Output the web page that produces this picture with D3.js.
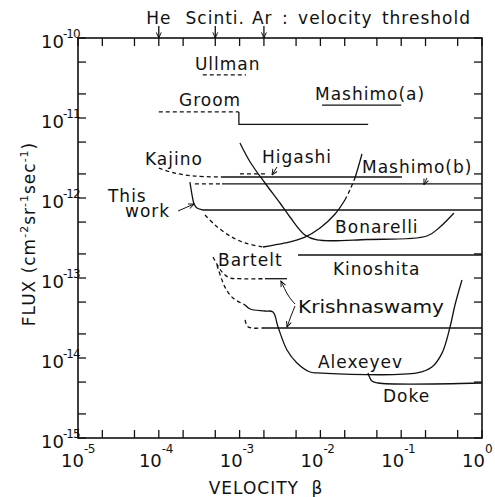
<!DOCTYPE html>
<html><head><meta charset="utf-8">
<script src="https://cdn.jsdelivr.net/npm/d3@7"></script>
<style>
html,body{margin:0;padding:0;background:#fff;}
svg{display:block;}
text{font-family:"DejaVu Sans",sans-serif;fill:#111;}
</style></head><body>
<svg id="c" width="495" height="497"></svg>
<script>
// ---------- data ----------
const xDomain = [1e-5, 1];
const yDomain = [1e-15, 1e-10];
const xTickExps = [-5, -4, -3, -2, -1, 0];
const yTickExps = [-10, -11, -12, -13, -14, -15];
const minorMults = [1, 2, 5];

const thresholdLabels = ["He", "Scinti.", "Ar"];
const thresholdBeta = [1e-4, 5e-4, 2e-3];

// series: [beta, flux]
const ullmanDashed   = [[3.5e-4,3.45e-11],[1.2e-3,3.45e-11]];
const groomDashed    = [[1e-4,1.19e-11],[9.8e-4,1.19e-11]];
const groomSolid     = [[9.8e-4,1.19e-11],[9.8e-4,8.3e-12],[0.039,8.3e-12]];
const mashimoA       = [[0.0105,1.45e-11],[0.1,1.45e-11]];
const kajinoDashed   = [[1e-4,2.37e-12],[1.58e-4,2.05e-12],[2.8e-4,1.88e-12],[6.06e-4,1.83e-12]];
const kajinoSolid    = [[6.06e-4,1.83e-12],[0.102,1.83e-12]];
const higashiDashed  = [[1.01e-3,2.0e-12],[2.24e-3,2.0e-12]];
const mashimoBDashed = [[2.8e-4,1.5e-12],[6.06e-4,1.5e-12]];
const mashimoBSolid  = [[6.06e-4,1.5e-12],[1,1.5e-12]];
const thisWorkCurve  = [[2.43e-4,1.58e-12],[2.58e-4,1.09e-12],[2.73e-4,8.4e-13],[2.97e-4,7.5e-13],[3.52e-4,7.08e-13]];
const thisWorkFlat   = [[3.52e-4,7.08e-13],[1,7.08e-13]];
const uDashed        = [[3.73e-4,6.13e-13],[4.96e-4,4.6e-13],[7.6e-4,3.35e-13],[1.17e-3,2.74e-13],[1.95e-3,2.44e-13]];
const uSolidLow      = [[1.95e-3,2.44e-13],[3.65e-3,2.74e-13],[6.44e-3,3.25e-13],[9.9e-3,4.22e-13],[0.0152,6.31e-13],[0.0201,9.44e-13]];
const uDashedMid     = [[0.0201,9.44e-13],[0.0232,1.26e-12],[0.0268,1.78e-12]];
const uSolidTop      = [[0.0268,1.78e-12],[0.0292,2.37e-12],[0.0327,3.55e-12]];
const bonarelli      = [[1.01e-3,4.87e-12],[1.35e-3,2.82e-12],[2.06e-3,1.54e-12],[3.16e-3,8.66e-13],[4.2e-3,5.79e-13],[6.44e-3,3.45e-13],[9.08e-3,2.99e-13],[0.0377,3.03e-13],[0.208,3.35e-13],[0.302,4.34e-13],[0.45,6.5e-13]];
const kinoshita      = [[5.28e-3,1.94e-13],[1,1.94e-13]];
const bartelt1Dashed = [[4.69e-4,1.83e-13],[5.41e-4,1.41e-13],[6.24e-4,1.15e-13],[7.6e-4,1.0e-13],[1.0e-3,9.8e-14],[2.06e-3,9.8e-14]];
const krishUpper     = [[2.06e-3,9.8e-14],[3.86e-3,9.8e-14]];
const bartelt2Dashed = [[5.25e-4,1.45e-13],[6.59e-4,7.7e-14],[8.28e-4,5.62e-14],[1.17e-3,4.6e-14]];
const alexeyev       = [[1.17e-3,4.6e-14],[1.35e-3,4.1e-14],[2.06e-3,3.87e-14],[2.59e-3,3.76e-14],[2.99e-3,2.44e-14],[3.86e-3,1.26e-14],[5.13e-3,8.66e-15],[7.43e-3,6.68e-15],[9.08e-3,6.5e-15],[0.157,6.5e-15],[0.24,7.7e-15],[0.32,1.15e-14],[0.402,2.44e-14],[0.463,4.6e-14],[0.565,9.44e-14]];
const krishLowDashed = [[1.17e-3,2.99e-14],[1.24e-3,2.51e-14],[1.42e-3,2.37e-14],[1.89e-3,2.37e-14]];
const krishLowSolid  = [[1.89e-3,2.37e-14],[1,2.37e-14]];
const doke           = [[0.0388,6.5e-15],[0.0435,5.16e-15],[0.0516,4.87e-15],[1,4.87e-15]];

// annotation arrows [beta, flux]
const thisWorkArrow  = [[1.73e-4,6.88e-13],[2.73e-4,8.4e-13]];
const higashiArrow   = [[2.9e-3,2.44e-12],[2.52e-3,1.94e-12]];
const mashimoBArrow  = [[0.208,1.78e-12],[0.191,1.47e-12]];
const krishArrowUp   = [[4.85e-3,4.73e-14],[3.97e-3,6.13e-14],[3.25e-3,9.17e-14]];
const krishArrowDown = [[4.85e-3,4.47e-14],[4.33e-3,3.35e-14],[3.86e-3,2.44e-14]];

// labels
const labelTexts = ["Ullman","Groom","Mashimo(a)","Kajino","Higashi","Mashimo(b)","This","work","Bonarelli","Kinoshita","Bartelt","Krishnaswamy","Alexeyev","Doke"];
const labelBeta  = [2.8e-4,1.78e-4,8.58e-3,6.75e-5,1.89e-3,0.0327,2.35e-5,3.82e-5,0.0152,0.0143,5.41e-4,5.28e-3,9.33e-3,0.0596];
const labelFlux  = [3.98e-11,1.41e-11,1.68e-11,2.58e-12,2.74e-12,2.05e-12,8.9e-13,5.79e-13,3.65e-13,1.09e-13,1.41e-13,3.65e-14,7.5e-15,2.82e-15];

// ---------- drawing ----------
const svg = d3.select("#c");
const L = 78, R = 482, T = 38, B = 438;
const x = d3.scaleLog().domain(xDomain).range([L, R]);
const y = d3.scaleLog().domain(yDomain).range([B, T]);
const ink = "#111";

const defs = svg.append("defs");
defs.append("marker").attr("id","ah").attr("viewBox","0 0 10 10")
  .attr("refX",9).attr("refY",5).attr("markerWidth",7).attr("markerHeight",7)
  .attr("markerUnits","userSpaceOnUse").attr("orient","auto")
  .append("path").attr("d","M1,1.5 L9,5 L1,8.5").attr("fill","none").attr("stroke",ink).attr("stroke-width",1.4);

// frame
svg.append("rect").attr("x",L).attr("y",T).attr("width",R-L).attr("height",B-T)
  .attr("fill","none").attr("stroke",ink).attr("stroke-width",1.6);

// ticks
const xTickVals = [], yTickVals = [];
xTickExps.forEach(e => minorMults.forEach(m => { const v = m*Math.pow(10,e); if (v <= 1.0001) xTickVals.push(v); }));
yTickExps.forEach(e => minorMults.forEach(m => { const v = m*Math.pow(10,e); if (v <= 1.0001e-10) yTickVals.push(v); }));
const tk = 8;
const tg = svg.append("g").attr("stroke",ink).attr("stroke-width",1.3);
xTickVals.forEach(v => {
  tg.append("line").attr("x1",x(v)).attr("x2",x(v)).attr("y1",B).attr("y2",B-tk);
  tg.append("line").attr("x1",x(v)).attr("x2",x(v)).attr("y1",T).attr("y2",T+tk);
});
yTickVals.forEach(v => {
  tg.append("line").attr("y1",y(v)).attr("y2",y(v)).attr("x1",L).attr("x2",L+tk);
  tg.append("line").attr("y1",y(v)).attr("y2",y(v)).attr("x1",R).attr("x2",R-tk);
});

// tick labels
xTickExps.forEach(e => {
  const xx = x(Math.pow(10,e)) + (e === -5 ? 6 : 3);
  svg.append("text").attr("x",xx).attr("y",467).attr("text-anchor","end").attr("font-size",18).text("10");
  svg.append("text").attr("x",xx).attr("y",453).attr("text-anchor","start").attr("font-size",12)
    .attr("letter-spacing",-0.5).text(String(e));
});
yTickExps.forEach(e => {
  const yy = y(Math.pow(10,e));
  svg.append("text").attr("x",64).attr("y",yy+10).attr("text-anchor","end").attr("font-size",18).text("10");
  svg.append("text").attr("x",63).attr("y",yy).attr("text-anchor","start").attr("font-size",12)
    .attr("letter-spacing",-1).text(String(e));
});

// axis titles
svg.append("text").attr("x",266).attr("y",494).attr("text-anchor","middle")
  .attr("font-size",17).attr("letter-spacing",1).attr("word-spacing",6).text("VELOCITY β");
const yt = svg.append("text").attr("transform","translate(35,234) rotate(-90)")
  .attr("text-anchor","middle").attr("font-size",17).attr("letter-spacing",1);
yt.append("tspan").text("FLUX (cm");
yt.append("tspan").attr("dy",-7).attr("font-size",11).text("-2");
yt.append("tspan").attr("dy",7).text("sr");
yt.append("tspan").attr("dy",-7).attr("font-size",11).text("-1");
yt.append("tspan").attr("dy",7).text("sec");
yt.append("tspan").attr("dy",-7).attr("font-size",11).text("-1");
yt.append("tspan").attr("dy",7).text(")");

// thresholds (top)
thresholdBeta.forEach((b,i) => {
  const xx = x(b);
  svg.append("line").attr("x1",xx).attr("x2",xx).attr("y1",T-12).attr("y2",T)
    .attr("stroke",ink).attr("stroke-width",1.3).attr("marker-end","url(#ah)");
  svg.append("text").attr("x", i < 2 ? xx : xx-12).attr("y",24)
    .attr("text-anchor", i < 2 ? "middle" : "start")
    .attr("font-size",17).attr("letter-spacing",1).attr("word-spacing",3)
    .text(i < 2 ? thresholdLabels[i] : thresholdLabels[i] + " : velocity  threshold");
});

// series
const lineLin = d3.line().x(d => x(d[0])).y(d => y(d[1]));
const lineCurve = d3.line().x(d => x(d[0])).y(d => y(d[1])).curve(d3.curveCatmullRom.alpha(0.5));
const series = [
  [ullmanDashed,true,false],[groomDashed,true,false],[groomSolid,false,false],[mashimoA,false,false],
  [kajinoDashed,true,true],[kajinoSolid,false,false],[higashiDashed,true,false],
  [mashimoBDashed,true,false],[mashimoBSolid,false,false],
  [thisWorkCurve,false,true],[thisWorkFlat,false,false],
  [uDashed,true,true],[uSolidLow,false,true],[uDashedMid,true,true],[uSolidTop,false,true],
  [bonarelli,false,true],[kinoshita,false,false],
  [bartelt1Dashed,true,true],[krishUpper,false,false],
  [bartelt2Dashed,true,true],[alexeyev,false,true],
  [krishLowDashed,true,true],[krishLowSolid,false,false],
  [doke,false,true]
];
const sg = svg.append("g").attr("fill","none").attr("stroke",ink).attr("stroke-width",1.3);
series.forEach(([pts,dashed,curved]) => {
  sg.append("path").attr("d",(curved ? lineCurve : lineLin)(pts))
    .attr("stroke-dasharray", dashed ? "4,3" : null);
});

// annotation arrows
const ag = svg.append("g").attr("fill","none").attr("stroke",ink).attr("stroke-width",1);
const arrowLine = d3.line().x(d => x(d[0])).y(d => y(d[1])).curve(d3.curveNatural);
[thisWorkArrow, higashiArrow, mashimoBArrow, krishArrowUp, krishArrowDown].forEach(a => {
  ag.append("path").attr("d",arrowLine(a)).attr("marker-end","url(#ah)");
});

// labels
labelTexts.forEach((t,i) => {
  const el = svg.append("text").attr("x",x(labelBeta[i])).attr("y",y(labelFlux[i]))
    .attr("font-size",17).attr("letter-spacing",1).text(t);
  if (t === "Krishnaswamy") el.attr("letter-spacing",0).attr("textLength",146).attr("lengthAdjust","spacingAndGlyphs");
});
</script>
</body></html>
